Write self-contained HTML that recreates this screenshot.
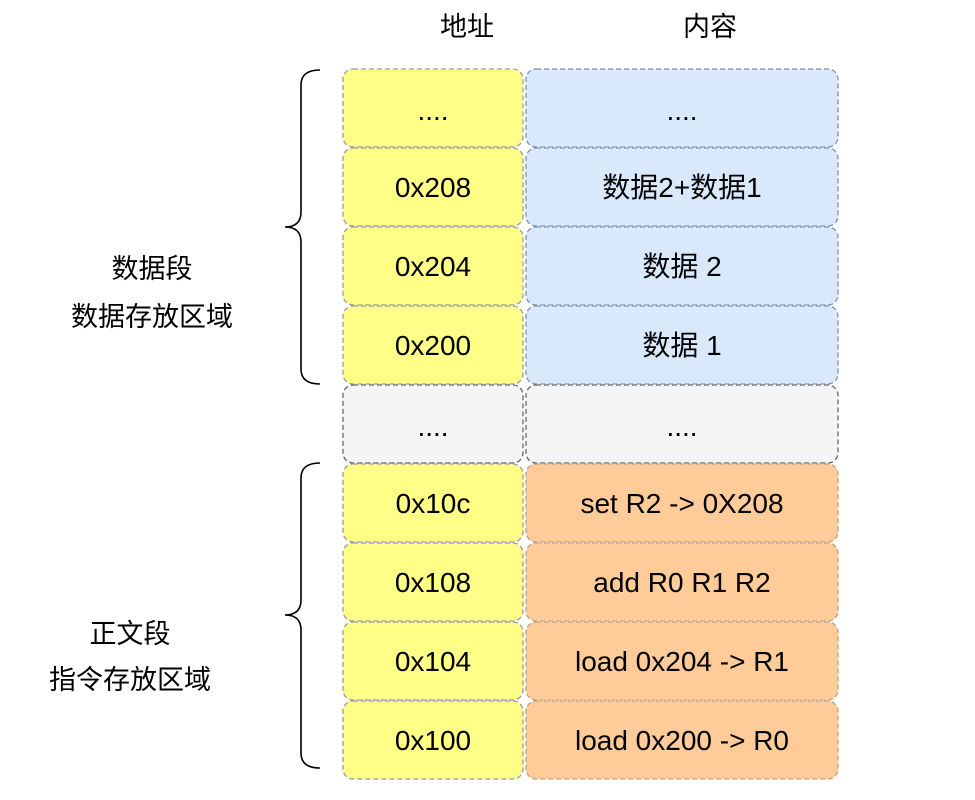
<!DOCTYPE html>
<html><head><meta charset="utf-8"><style>
html,body{margin:0;padding:0;background:#fff;}
text{font-family:"Liberation Sans","Noto Sans CJK SC",sans-serif;fill:#000;}
</style></head><body>
<svg width="975" height="795" viewBox="0 0 975 795" xmlns="http://www.w3.org/2000/svg">
<text x="467" y="36" font-size="27" text-anchor="middle">地址</text>
<text x="710" y="36" font-size="27" text-anchor="middle">内容</text>
<g stroke-dasharray="5,3" stroke-width="1.3">
<!-- rows -->
<rect x="343" y="69" width="180" height="78" rx="10" fill="#ffff88" stroke="#9a9aa6"/>
<rect x="526" y="69" width="312" height="78" rx="10" fill="#dae8fc" stroke="#8090b0"/>
<rect x="343" y="148" width="180" height="78" rx="10" fill="#ffff88" stroke="#9a9aa6"/>
<rect x="526" y="148" width="312" height="78" rx="10" fill="#dae8fc" stroke="#8090b0"/>
<rect x="343" y="227" width="180" height="78" rx="10" fill="#ffff88" stroke="#9a9aa6"/>
<rect x="526" y="227" width="312" height="78" rx="10" fill="#dae8fc" stroke="#8090b0"/>
<rect x="343" y="306" width="180" height="78" rx="10" fill="#ffff88" stroke="#9a9aa6"/>
<rect x="526" y="306" width="312" height="78" rx="10" fill="#dae8fc" stroke="#8090b0"/>
<rect x="343" y="385" width="180" height="78" rx="10" fill="#f5f5f5" stroke="#666"/>
<rect x="526" y="385" width="312" height="78" rx="10" fill="#f5f5f5" stroke="#666"/>
<rect x="343" y="464" width="180" height="78" rx="10" fill="#ffff88" stroke="#9a9aa6"/>
<rect x="526" y="464" width="312" height="78" rx="10" fill="#ffcc99" stroke="#c0a080"/>
<rect x="343" y="543" width="180" height="78" rx="10" fill="#ffff88" stroke="#9a9aa6"/>
<rect x="526" y="543" width="312" height="78" rx="10" fill="#ffcc99" stroke="#c0a080"/>
<rect x="343" y="622" width="180" height="78" rx="10" fill="#ffff88" stroke="#9a9aa6"/>
<rect x="526" y="622" width="312" height="78" rx="10" fill="#ffcc99" stroke="#c0a080"/>
<rect x="343" y="701" width="180" height="78" rx="10" fill="#ffff88" stroke="#9a9aa6"/>
<rect x="526" y="701" width="312" height="78" rx="10" fill="#ffcc99" stroke="#c0a080"/>
</g>
<g font-size="28" text-anchor="middle">
<text x="433" y="120">....</text><text x="682" y="120">....</text>
<text x="433" y="197">0x208</text><text x="682" y="197">数据2+数据1</text>
<text x="433" y="276">0x204</text><text x="682" y="276">数据 2</text>
<text x="433" y="355">0x200</text><text x="682" y="355">数据 1</text>
<text x="433" y="436">....</text><text x="682" y="436">....</text>
<text x="433" y="513">0x10c</text><text x="682" y="513">set R2 -&gt; 0X208</text>
<text x="433" y="592">0x108</text><text x="682" y="592">add R0 R1 R2</text>
<text x="433" y="671">0x104</text><text x="682" y="671">load 0x204 -&gt; R1</text>
<text x="433" y="750">0x100</text><text x="682" y="750">load 0x200 -&gt; R0</text>
</g>
<g fill="none" stroke="#000" stroke-width="1.6">
<path d="M320,70 Q301,70 301,85 L301,212 Q301,227 285,227 Q301,227 301,242 L301,369 Q301,384 320,384"/>
<path d="M320,463 Q301,463 301,478 L301,600 Q301,615 285,615 Q301,615 301,630 L301,753 Q301,768 320,768"/>
</g>
<g font-size="27" text-anchor="middle">
<text x="152" y="278">数据段</text>
<text x="152" y="326">数据存放区域</text>
<text x="130" y="643">正文段</text>
<text x="130" y="689">指令存放区域</text>
</g>
</svg>
</body></html>
